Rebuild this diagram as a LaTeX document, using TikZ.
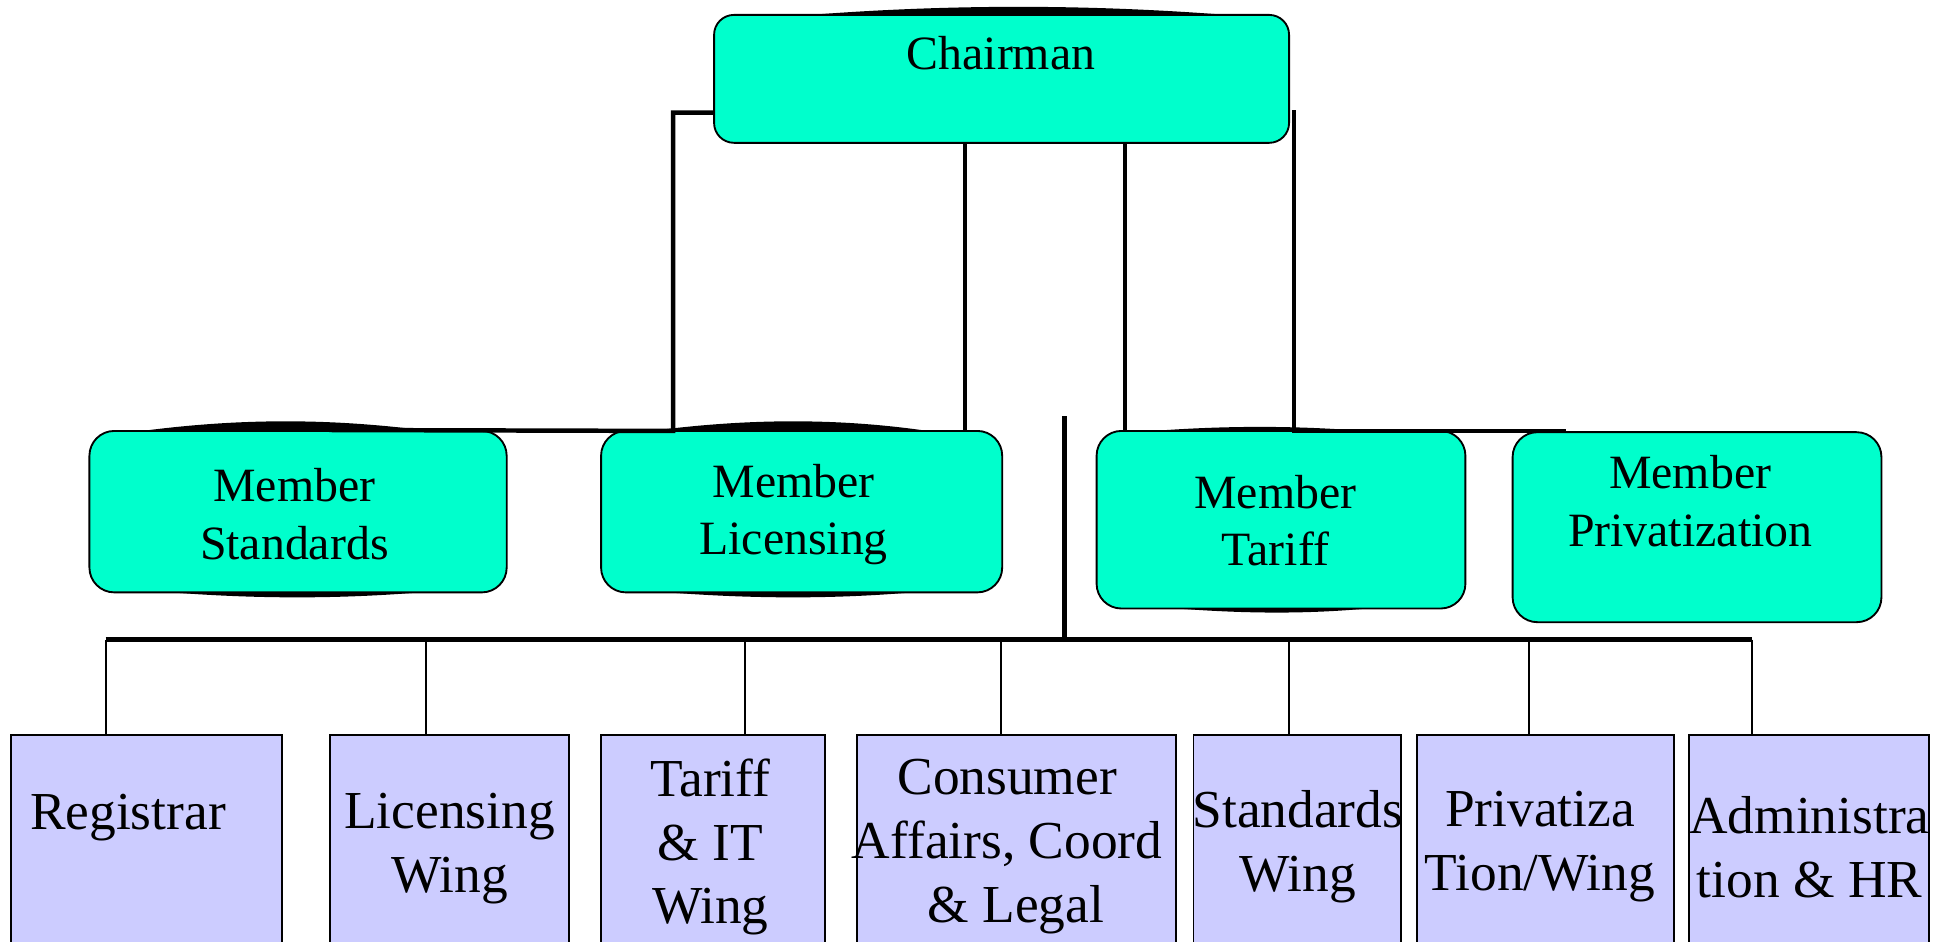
\documentclass[tikz,border=0pt]{standalone}
\usepackage{fontspec}
\setmainfont{Liberation Serif}
\definecolor{tealbox}{HTML}{00FFCC}
\definecolor{lavbox}{HTML}{CCCCFF}
\tikzset{
  member/.style={draw=black, line width=1.5pt, fill=tealbox, rounded corners=20pt, inner sep=0pt},
  unitbox/.style={draw=black, line width=1.5pt, fill=lavbox, inner sep=0pt},
  txtm/.style={font=\fontsize{38.5}{46}\selectfont, align=center, inner sep=0pt},
  txtu/.style={font=\fontsize{43}{51.5}\selectfont, align=center, inner sep=0pt},
  conn/.style={line width=3.6pt},
  busline/.style={line width=4.2pt},
  dropline/.style={line width=1.7pt}
}
\begin{document}
\begin{tikzpicture}[x=1pt,y=-1pt]
\useasboundingbox (0,0) rectangle (1568.6,758.4);
\fill[white] (0,0) rectangle (1568.6,758.4);

% lens shadows
\fill (640,13) .. controls (760,3) and (880,3) .. (1000,13) -- cycle;
\fill (100,349) .. controls (190,336) and (270,336) .. (360,349) -- cycle;
\fill (115,475) .. controls (200,483) and (280,483) .. (360,475) -- cycle;
\fill (510,349) .. controls (600,336) and (680,336) .. (760,349) -- cycle;
\fill (515,475) .. controls (600,483) and (680,483) .. (755,475) -- cycle;
\fill (905,349) .. controls (980,342) and (1050,342) .. (1120,349) -- cycle;
\fill (925,488) .. controls (1000,495) and (1060,495) .. (1120,488) -- cycle;

% top boxes
\node[member, rounded corners=16pt, minimum width=463pt, minimum height=103pt] (chair) at (806.5,63.5) {};
\node[txtm] (chairT) at (806,43) {Chairman};

\node[member, minimum width=336pt, minimum height=130pt] (ms) at (240,412) {};
\node[txtm] (msT) at (237,414) {Member\\Standards};
\node[member, minimum width=323pt, minimum height=130pt] (ml) at (645.5,412) {};
\node[txtm] (mlT) at (639,414) {Member\\Licensing};
\node[member, minimum width=297pt, minimum height=143pt] (mt) at (1031.5,418.5) {};
\node[txtm] (mtT) at (1027,419) {Member\\Tariff};
\node[member, minimum width=297pt, minimum height=153pt] (mp) at (1366.5,424.5) {};
\node[txtm] (mpT) at (1361,403.5) {Member\\Privatization};

% connectors from chairman
\coordinate (jl) at (542,347);
\draw[conn] ([yshift=25pt]chair.south west) -| (jl) -- ([xshift=25pt]ms.north);
\draw[conn] ([xshift=-29.5pt]chair.south) coordinate (ca) -- (ca |- ml.north);
\draw[conn] ([xshift=99.5pt]chair.south) coordinate (cb) -- (cb |- mt.north);
\draw[conn] ([xshift=3pt,yshift=27pt]chair.south east) coordinate (cc) -- (cc |- mp.north) -- ([xshift=44pt]mp.north west);

% bottom boxes
\node[unitbox, minimum width=218pt, minimum height=188pt] (b1) at (118,686) {};
\node[unitbox, minimum width=192pt, minimum height=188pt] (b2) at (362,686) {};
\node[unitbox, minimum width=180pt, minimum height=188pt] (b3) at (574,686) {};
\node[unitbox, minimum width=257pt, minimum height=188pt] (b4) at (818.5,686) {};
\node[unitbox, minimum width=167pt, minimum height=188pt] (b5) at (1044.5,686) {};
\node[unitbox, minimum width=207pt, minimum height=188pt] (b6) at (1244.5,686) {};
\node[unitbox, minimum width=193pt, minimum height=188pt] (b7) at (1456.5,686) {};

\node[txtu, anchor=west] (t1) at (24,658) {Registrar};
\node[txtu] (t2) at (362,683) {Licensing\\Wing};
\node[txtu] (t3) at (572,682) {Tariff\\\& IT\\Wing};
\node[txtu] (t4) at (811,682) {Consumer\\Affairs, Coord\\\hspace*{14pt}\& Legal};
\node[txtu] (t5) at (1045,682) {Standards\\Wing};
\node[txtu] (t6) at (1240,682) {Privatiza\\Tion/Wing};
\node[txtu] (t7) at (1457,682) {Administra\\tion \& HR};

% bus
\coordinate (hub) at (857,335);
\coordinate (bus) at (857,515);
\coordinate (e1) at (85,515);
\coordinate (e2) at (343,515);
\coordinate (e3) at (600,515);
\coordinate (e4) at (806,515);
\coordinate (e5) at (1038,515);
\coordinate (e6) at (1231,515);
\coordinate (e7) at (1411,515);
\draw[busline] (hub) -- (bus);
\draw[busline] (e1) -- (e7);
\draw[dropline] (e1) -- (e1 |- b1.north);
\draw[dropline] (e2) -- (e2 |- b2.north);
\draw[dropline] (e3) -- (e3 |- b3.north);
\draw[dropline] (e4) -- (e4 |- b4.north);
\draw[dropline] (e5) -- (e5 |- b5.north);
\draw[dropline] (e6) -- (e6 |- b6.north);
\draw[dropline] (e7) -- (e7 |- b7.north);
\end{tikzpicture}
\end{document}
